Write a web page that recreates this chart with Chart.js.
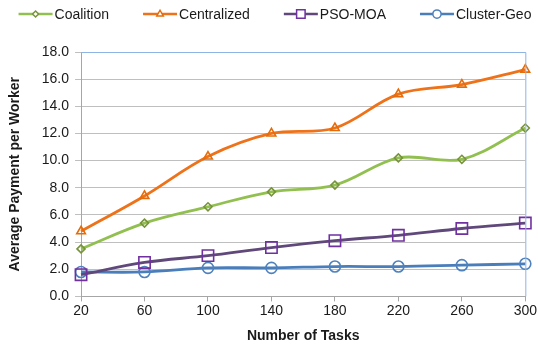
<!DOCTYPE html>
<html lang="en">
<head>
  <meta charset="UTF-8">
  <title>Average Payment per Worker</title>
  <script src="https://cdn.jsdelivr.net/npm/chart.js"></script>
  <style>
    html, body { margin: 0; padding: 0; background: #fff; }
    #wrap { width: 538px; height: 348px; }
  </style>
</head>
<body>
  <div id="wrap"><canvas id="chart"></canvas></div>
  <script>
// data
const tasks = ['20', '60', '100', '140', '180', '220', '260', '300'];
const coalition   = [3.5, 5.4, 6.6, 7.7, 8.2, 10.2, 10.1, 12.4];
const centralized = [4.8, 7.4, 10.3, 12.0, 12.4, 14.9, 15.6, 16.7];
const psoMoa      = [1.6, 2.5, 3.0, 3.6, 4.1, 4.5, 5.0, 5.4];
const clusterGeo  = [1.8, 1.8, 2.1, 2.1, 2.2, 2.2, 2.3, 2.4];

const FONT = 'Liberation Sans, Arial, sans-serif';

const series = [
  { label: 'Coalition',   data: coalition,   line: '#92C050', mark: '#77933C', style: 'rectRot', r: 4 },
  { label: 'Centralized', data: centralized, line: '#EE7219', mark: '#E46C0A', style: 'triangle', r: 5 },
  { label: 'PSO-MOA',     data: psoMoa,      line: '#60497A', mark: '#7030A0', style: 'rect', r: 8 },
  { label: 'Cluster-Geo', data: clusterGeo,  line: '#4A7EBB', mark: '#4F81BD', style: 'circle', r: 5.5 }
];

const datasets = series.map(s => ({
  label: s.label,
  data: s.data,
  borderColor: s.line,
  borderWidth: 2.8,
  tension: 0.35,
  pointStyle: s.style,
  pointRadius: s.r,
  pointBorderColor: s.mark,
  pointBackgroundColor: 'rgba(255,255,255,0)',
  pointBorderWidth: 1.6,
  pointHoverRadius: s.r,
  fill: false
}));

// office-style key: line with marker, then the name, all in one row
const lineKey = {
  id: 'lineKey',
  afterDraw(chart) {
    const ctx = chart.ctx;
    const iconW = 34, gap = 2, itemGap = 34, y = 14;
    ctx.save();
    ctx.font = '14px ' + FONT;
    ctx.textBaseline = 'middle';
    const widths = chart.data.datasets.map(d => ctx.measureText(d.label).width);
    const total = widths.reduce((a, w) => a + iconW + gap + w, 0) + itemGap * (widths.length - 1);
    let x = 275 - total / 2;
    chart.data.datasets.forEach((d, i) => {
      const s = series[i];
      ctx.strokeStyle = s.line; ctx.lineWidth = 2.5;
      ctx.beginPath(); ctx.moveTo(x, y); ctx.lineTo(x + iconW, y); ctx.stroke();
      ctx.strokeStyle = s.mark; ctx.lineWidth = 1.5; ctx.fillStyle = '#fff';
      Chart.helpers.drawPoint(ctx, { pointStyle: s.style, radius: s.r * 0.75, borderWidth: 1.5 }, x + iconW / 2, y);
      ctx.fillStyle = '#1a1a1a';
      ctx.fillText(d.label, x + iconW + gap, y + 1);
      x += iconW + gap + widths[i] + itemGap;
    });
    ctx.restore();
  }
};

const plotFrame = {
  id: 'plotFrame',
  afterDraw(chart) {
    const { ctx, chartArea: a } = chart;
    ctx.save();
    ctx.strokeStyle = '#8EB4E3';
    ctx.lineWidth = 1;
    ctx.beginPath();
    ctx.moveTo(a.left, a.top + 0.5);
    ctx.lineTo(a.right + 0.5, a.top + 0.5);
    ctx.lineTo(a.right + 0.5, a.bottom);
    ctx.stroke();
    ctx.restore();
  }
};

new Chart(document.getElementById('chart'), {
  type: 'line',
  data: { labels: tasks, datasets: datasets },
  plugins: [plotFrame, lineKey],
  options: {
    responsive: true,
    maintainAspectRatio: false,
    animation: false,
    layout: { padding: { left: 3, right: 9, top: 52, bottom: -1 } },
    plugins: {
      tooltip: { enabled: false },
      legend: { display: false }
    },
    scales: {
      x: {
        offset: false,
        grid: { display: true, drawOnChartArea: false, drawTicks: true, tickLength: 5, color: '#A6A6A6' },
        border: { color: '#A6A6A6', width: 1 },
        ticks: { color: '#1a1a1a', font: { family: FONT, size: 14 }, padding: 1 },
        title: {
          display: true, text: 'Number of Tasks', color: '#1a1a1a',
          font: { family: FONT, size: 14, weight: 'bold' }, padding: { top: 8 }
        }
      },
      y: {
        min: 0, max: 18,
        grid: { color: '#BFBFBF', lineWidth: 1, tickLength: 6 },
        border: { color: '#A6A6A6', width: 1 },
        ticks: {
          stepSize: 2,
          color: '#1a1a1a',
          font: { family: FONT, size: 14 },
          padding: 6,
          callback: v => v.toFixed(1)
        },
        title: {
          display: true, text: 'Average Payment per Worker', color: '#1a1a1a',
          font: { family: FONT, size: 14, weight: 'bold' }, padding: { bottom: 12 }
        }
      }
    }
  }
});
  </script>
</body>
</html>
